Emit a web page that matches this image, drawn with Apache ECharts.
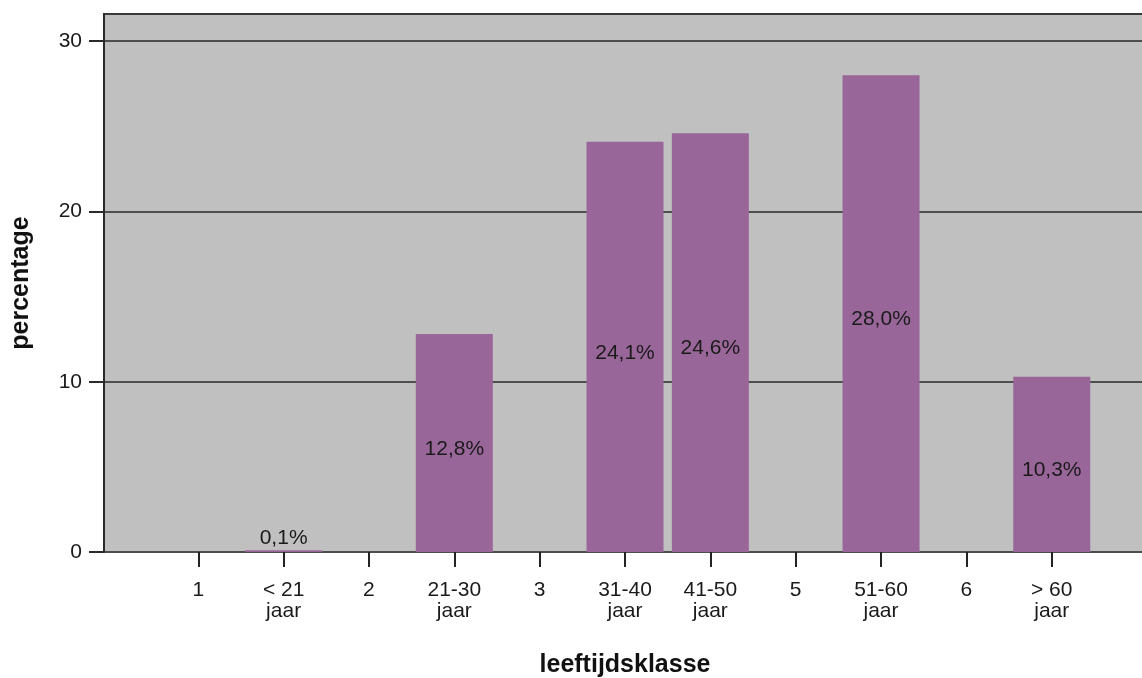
<!DOCTYPE html>
<html>
<head>
<meta charset="utf-8">
<script src="https://cdn.jsdelivr.net/npm/echarts@6/dist/echarts.min.js"></script>
<style>
html,body{margin:0;padding:0;background:#fff;overflow:hidden;}
#chart{width:1142px;height:678px;}
</style>
</head>
<body>
<div id="chart"></div>
<script>
var categories = ['1', '< 21\njaar', '2', '21-30\njaar', '3', '31-40\njaar', '41-50\njaar', '5', '51-60\njaar', '6', '> 60\njaar'];
var percentages = [null, 0.1, null, 12.8, null, 24.1, 24.6, null, 28.0, null, 10.3];
var yTicks = [0, 10, 20, 30];
var xTitle = 'leeftijdsklasse';
var yTitle = 'percentage';

var FONT = "'Liberation Sans', Arial, sans-serif";
var yMax = 31.6;

var barData = percentages.map(function (v) {
  if (v === null) return null;
  return {
    value: v,
    label: { position: v < 1 ? 'top' : 'inside', distance: 2, offset: v < 1 ? [0, 0] : [0, 6] }
  };
});

var chart = echarts.init(document.getElementById('chart'), null, { renderer: 'canvas' });
chart.setOption({
  animation: false,
  backgroundColor: '#ffffff',
  grid: [
    { left: 104, width: 1080, top: 14, height: 538, show: true, backgroundColor: '#c0c0c0', borderColor: '#3a3a3a', borderWidth: 2, containLabel: false, outerBoundsMode: 'none' },
    { left: 155.6, width: 938.8, top: 14, height: 538, containLabel: false, outerBoundsMode: 'none' }
  ],
  xAxis: [
    { gridIndex: 0, type: 'value', min: 0, max: 1, show: false },
    {
      gridIndex: 1, type: 'category', data: categories, boundaryGap: true,
      axisLine: { show: false },
      axisTick: { show: true, alignWithLabel: true, interval: 0, length: 15, lineStyle: { color: '#222', width: 2 } },
      axisLabel: { interval: 0, margin: 28, fontFamily: FONT, fontSize: 21, lineHeight: 21, color: '#1a1a1a' },
      splitLine: { show: false },
      name: xTitle, nameLocation: 'middle', nameGap: 101,
      nameTextStyle: { fontFamily: FONT, fontSize: 25, fontWeight: 'bold', color: '#111' }
    }
  ],
  yAxis: [
    {
      gridIndex: 0, type: 'value', min: 0, max: yMax,
      axisLine: { show: true, lineStyle: { color: '#2a2a2a', width: 2 } },
      axisTick: { show: true, length: 15, customValues: yTicks, lineStyle: { color: '#2a2a2a', width: 2 } },
      axisLabel: { customValues: yTicks, margin: 22, fontFamily: FONT, fontSize: 21, color: '#1a1a1a' },
      splitLine: { show: true, lineStyle: { color: '#4e4e4e', width: 2 } },
      name: yTitle, nameLocation: 'middle', nameGap: 70, nameRotate: 90,
      nameTextStyle: { fontFamily: FONT, fontSize: 25, fontWeight: 'bold', color: '#111' }
    },
    { gridIndex: 1, type: 'value', min: 0, max: yMax, show: false, splitLine: { show: false } }
  ],
  series: [
    {
      type: 'bar', xAxisIndex: 1, yAxisIndex: 1, data: barData, barWidth: 77,
      itemStyle: { color: '#996699' },
      label: {
        show: true, fontFamily: FONT, fontSize: 21, color: '#1a1a1a',
        formatter: function (p) { return p.value.toFixed(1).replace('.', ',') + '%'; }
      }
    }
  ]
});
</script>
</body>
</html>
